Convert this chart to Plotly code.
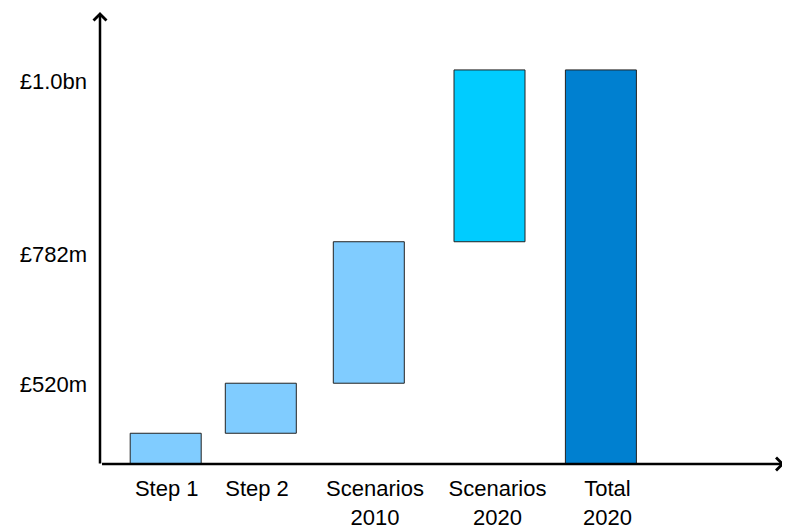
import plotly.graph_objects as go

# Data (schematic units, total = 1000)
categories = ["Step 1", "Step 2", "Scenarios<br>2010", "Scenarios<br>2020", "Total<br>2020"]
increments = [78, 127, 359, 436]
total_value = 1000
bar_positions = [65.7, 160.8, 268.8, 389.5, 500.9]
label_positions = [66.7, 157, 275, 397.5, 507.5]
bar_width = 71
colors = ["#80CCFF", "#80CCFF", "#80CCFF", "#00CCFF", "#0080D0"]
ytick_vals = [201, 533, 972]
ytick_text = ["£520m", "£782m", "£1.0bn"]

bases = []
run = 0
for v in increments:
    bases.append(run)
    run += v
values = increments + [total_value]
bases = bases + [0]

fig = go.Figure()
fig.add_trace(go.Bar(
    x=bar_positions,
    y=values,
    base=bases,
    width=bar_width,
    marker=dict(color=colors, line=dict(color="#222222", width=1)),
    hoverinfo="skip",
))

font = dict(family="Liberation Sans, Arial, sans-serif", size=22, color="#000000")

# page body has an 8px default margin, so the figure is 8px smaller
fig.update_layout(
    width=782, height=522,
    margin=dict(l=92, r=1, t=4, b=66, autoexpand=False),
    paper_bgcolor="white", plot_bgcolor="white",
    showlegend=False,
    font=font,
    xaxis=dict(range=[0, 689], showgrid=False, zeroline=False, showline=False,
               tickmode="array", tickvals=label_positions, ticktext=categories,
               ticks="", ticklabelstandoff=9, tickfont=font, automargin=False),
    yaxis=dict(range=[0, 1147], showgrid=False, zeroline=False, showline=False,
               tickmode="array", tickvals=ytick_vals, ticktext=ytick_text,
               ticks="", ticklabelstandoff=12, tickfont=font, automargin=False),
)

# Axis arrows
fig.add_annotation(xref="paper", yref="paper", x=0, y=1, ax=0, ay=453,
                   axref="pixel", ayref="pixel", text="", showarrow=True,
                   arrowhead=4, arrowsize=1, arrowwidth=2.5, arrowcolor="#000000",
                   standoff=0)
fig.add_annotation(xref="paper", yref="paper", x=0.9935, y=0, ax=-684, ay=0,
                   axref="pixel", ayref="pixel", text="", showarrow=True,
                   arrowhead=4, arrowsize=1, arrowwidth=2.5, arrowcolor="#000000",
                   standoff=0)

fig.write_html("out.html")
